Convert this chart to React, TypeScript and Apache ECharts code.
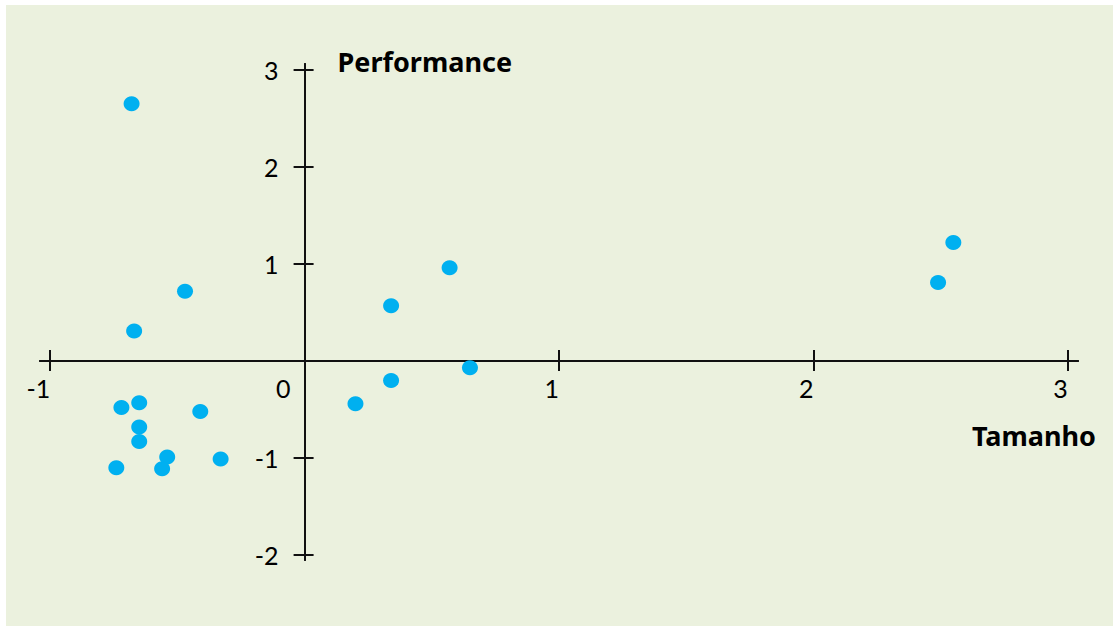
import React, { useEffect, useRef } from "react";
import * as echarts from "echarts";

// Axis ticks / labels
const xTickValues = [-1, 1, 2, 3];
const xLabelValues = [-1, 0, 1, 2, 3];
const yTickValues = [-2, -1, 1, 2, 3];
const yLabelValues = [-2, -1, 1, 2, 3];

const xName = "Tamanho";
const yName = "Performance";

// Series values (Tamanho, Performance)
const tamanho = [
  -0.68, -0.47, -0.67, -0.72, -0.65, -0.65, -0.65, -0.74, -0.54, -0.56,
  -0.41, -0.33, 0.2, 0.34, 0.34, 0.57, 0.65, 2.49, 2.55,
];
const performance = [
  2.65, 0.72, 0.31, -0.48, -0.43, -0.68, -0.83, -1.1, -0.99, -1.11,
  -0.52, -1.01, -0.44, -0.2, 0.57, 0.96, -0.07, 0.81, 1.22,
];

const X_MIN = -1.04;
const X_MAX = 3.04;
const Y_MIN = -2.05;
const Y_MAX = 3.06;

const GRID = { left: 34, top: 59, width: 1038, height: 496 };

const FONT = "Lato, 'Noto Sans', sans-serif";
const NAME_FONT = "'Noto Sans', 'Open Sans', sans-serif";
const lineStyle = { color: "#111", width: 2 };

export default function App() {
  const ref = useRef<HTMLDivElement>(null);

  useEffect(() => {
    if (!ref.current) return;
    const chart = echarts.init(ref.current, null, { renderer: "svg" });
    const points = tamanho.map((x, i) => [x, performance[i]]);

    // place every axis on the other axis' zero by an inward offset
    const zeroFromLeft = (GRID.width * (0 - X_MIN)) / (X_MAX - X_MIN);
    const zeroFromRight = GRID.width - zeroFromLeft;
    const zeroFromBottom = (GRID.height * (0 - Y_MIN)) / (Y_MAX - Y_MIN);
    const zeroFromTop = GRID.height - zeroFromBottom;

    const baseAxis = {
      type: "value" as const,
      splitLine: { show: false },
      axisLine: { show: true, onZero: false, lineStyle },
    };

    chart.setOption({
      animation: false,
      backgroundColor: "#EBF1DE",
      grid: { ...GRID, containLabel: false, outerBoundsMode: "none" },
      graphic: [
        {
          type: "text",
          x: 1090,
          y: 430,
          style: {
            text: xName,
            align: "right",
            verticalAlign: "middle",
            textAlign: "right",
            textVerticalAlign: "middle",
            fill: "#000",
            fontSize: 27,
            fontWeight: "bold",
            fontFamily: NAME_FONT,
          },
        },
      ],
      xAxis: [
        {
          ...baseAxis,
          position: "bottom",
          offset: -zeroFromBottom,
          min: X_MIN,
          max: X_MAX,
          axisTick: { show: true, length: 10, lineStyle, customValues: xTickValues },
          axisLabel: {
            show: true,
            customValues: xLabelValues,
            align: "right",
            margin: 14,
            fontSize: 25,
            color: "#000",
            fontFamily: FONT,
            formatter: (v: number) => (v === 0 ? "{z|0}" : String(v)),
            rich: {
              z: { padding: [0, 14, 0, 0], fontSize: 25, color: "#000", fontFamily: FONT },
            },
          },
        },
        {
          ...baseAxis,
          position: "top",
          offset: -zeroFromTop,
          min: X_MIN,
          max: X_MAX,
          axisTick: { show: true, length: 11, lineStyle, customValues: xTickValues },
          axisLabel: { show: false },
        },
      ],
      yAxis: [
        {
          ...baseAxis,
          position: "left",
          offset: -zeroFromLeft,
          min: Y_MIN,
          max: Y_MAX,
          name: yName,
          nameLocation: "end",
          nameGap: 3,
          nameTextStyle: {
            align: "left",
            verticalAlign: "middle",
            padding: [0, 0, 0, 33],
            fontSize: 27,
            fontWeight: "bold",
            color: "#000",
            fontFamily: NAME_FONT,
          },
          axisTick: { show: true, length: 11, lineStyle, customValues: yTickValues },
          axisLabel: {
            show: true,
            customValues: yLabelValues,
            margin: 26,
            fontSize: 25,
            color: "#000",
            fontFamily: FONT,
          },
        },
        {
          ...baseAxis,
          position: "right",
          offset: -zeroFromRight,
          min: Y_MIN,
          max: Y_MAX,
          axisTick: { show: true, length: 9, lineStyle, customValues: yTickValues },
          axisLabel: { show: false },
        },
      ],
      series: [
        {
          type: "scatter",
          xAxisIndex: 0,
          yAxisIndex: 0,
          data: points,
          symbol: "circle",
          symbolSize: [16, 15],
          itemStyle: { color: "#00B0F0", opacity: 1 },
          z: 5,
        },
      ],
    });

    return () => chart.dispose();
  }, []);

  return (
    <div style={{ position: "fixed", left: 0, top: 0, width: 1113, height: 626, background: "#fff" }}>
      <div ref={ref} style={{ position: "absolute", left: 6, top: 5, width: 1107, height: 621 }} />
    </div>
  );
}
